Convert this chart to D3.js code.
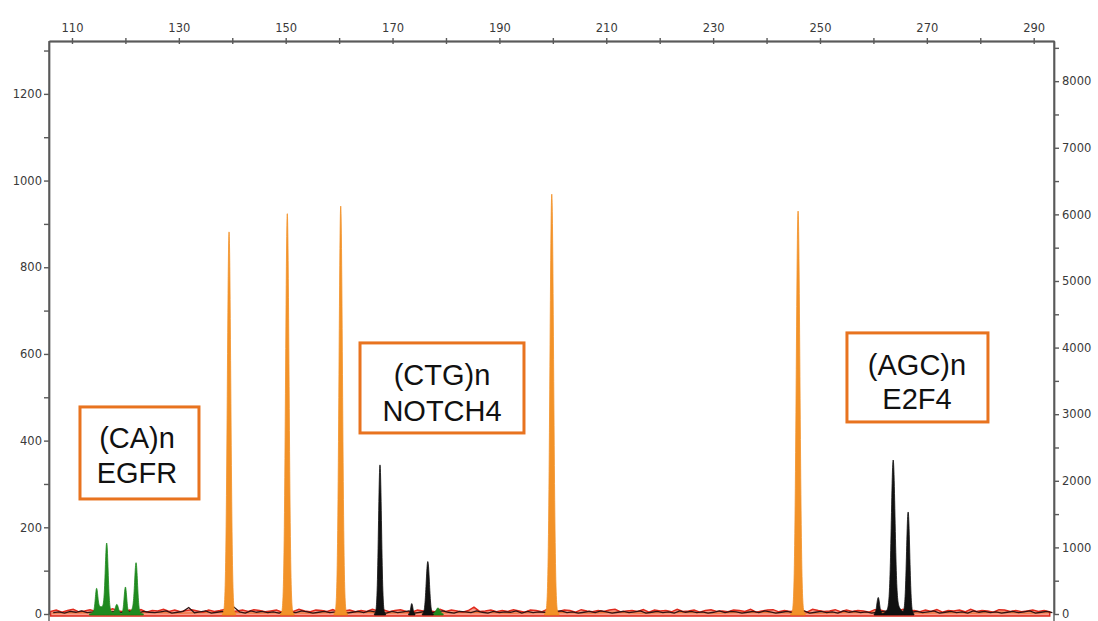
<!DOCTYPE html>
<html>
<head>
<meta charset="utf-8">
<script src="https://cdn.jsdelivr.net/npm/d3@7"></script>
<style>
  html, body { margin: 0; padding: 0; background: #fff; }
  svg { display: block; }
  .axis text { font-family: "DejaVu Sans", sans-serif; font-size: 11.5px; fill: #3a3a3a; }
  .axis line, .axis path { stroke: #5a5a5a; stroke-width: 1.4; }
  .box text { font-family: "Liberation Sans", Arial, sans-serif; font-size: 29px; fill: #111; }
</style>
</head>
<body>
<svg id="chart" width="1098" height="621"></svg>
<script>
// size axis (bp) and the two intensity axes
const sizeTicks = [110, 130, 150, 170, 190, 210, 230, 250, 270, 290];
const sizeMinor = [120, 140, 160, 180, 200, 220, 240, 260, 280];
const leftTicks = [0, 200, 400, 600, 800, 1000, 1200];
const leftMinor = [100, 300, 500, 700, 900, 1100, 1300];
const rightTicks = [0, 1000, 2000, 3000, 4000, 5000, 6000, 7000, 8000];
const rightMinor = [500, 1500, 2500, 3500, 4500, 5500, 6500, 7500, 8500];

// peaks: [size bp, height, width bp]
const orangePeaks = [[139.4, 882, 0.32], [150.3, 924, 0.32], [160.3, 941, 0.32], [199.8, 969, 0.34], [245.9, 930, 0.34]];
const blackPeaks = [[167.65, 344, 0.28], [173.6, 24, 0.2], [176.6, 121, 0.3], [260.9, 38, 0.25],
                    [263.7, 330, 0.34], [263.9, 26, 0.9], [266.5, 235, 0.3]];
const greenPeaks = [[114.6, 46, 0.22], [114.9, 14, 0.6], [116.5, 148, 0.26], [116.3, 16, 0.7],
                    [118.4, 22, 0.3], [120.0, 62, 0.24], [122.0, 106, 0.26], [121.7, 14, 0.6], [178.5, 14, 0.35]];

// baseline noise, one value per bp starting at 106
const redNoise = [6,9,4,8,11,5,7,10,6,3,8,12,7,5,9,6,10,4,8,7,
  11,6,9,5,8,10,7,4,9,6,8,11,5,7,9,6,10,8,5,7,
  9,4,8,6,11,7,5,9,8,6,10,4,7,9,5,8,6,11,7,9,
  5,8,10,6,4,9,7,8,5,11,6,9,7,4,8,16,6,7,9,5,
  8,6,10,7,4,9,8,5,11,7,6,9,8,4,10,7,5,8,6,9,
  11,5,7,8,6,10,4,9,7,8,5,11,6,7,9,4,8,10,6,7,
  5,9,8,6,11,4,7,9,10,5,8,6,7,9,4,11,8,6,7,10,
  5,9,6,8,7,4,10,9,5,8,6,11,7,8,5,9,6,10,4,8,
  7,9,5,11,6,8,7,4,10,9,6,8,5,7,9,6,8,5];
const blackNoise = [3,5,2,6,4,7,3,5,8,2,4,6,3,7,5,2,6,4,3,5,
  7,2,4,6,15,3,5,7,2,4,6,3,16,5,2,7,4,6,3,5,
  2,6,4,3,7,5,2,4,6,3,5,8,2,4,6,3,7,5,4,2,
  6,3,5,7,2,4,6,3,5,7,4,2,6,5,3,7,4,2,6,3,
  5,4,7,2,6,3,5,4,2,6,7,3,5,2,4,6,3,7,5,2,
  4,6,3,5,7,2,4,6,3,5,2,7,4,6,3,5,2,4,7,3,
  6,5,2,4,6,3,7,5,2,4,6,3,5,7,2,4,6,3,5,2,
  7,4,6,3,5,2,4,6,7,3,5,2,4,6,3,5,7,2,4,6,
  3,5,2,7,4,6,3,5,2,4,6,3,5,7,2,4,6,3];
const orangeNoise = [2,3,2,4,3,2,3,4,2,3,2,3,4,2,3,2,4,3,2,3,
  3,2,4,2,3,3,2,4,3,2,2,3,4,3,2,3,2,4,2,3];

// annotation boxes: label lines, size range, intensity range (left axis)
const boxes = [
  {lines: ["(CA)n", "EGFR"], x0: 111.5, x1: 133.77, y0: 477.7, y1: 265.4, cx: 137, base: [448, 483]},
  {lines: ["(CTG)n", "NOTCH4"], x0: 163.91, x1: 194.6, y0: 625.4, y1: 417.7, cx: 442, base: [385, 421]},
  {lines: ["(AGC)n", "E2F4"], x0: 255.05, x1: 281.44, y0: 648.5, y1: 443.1, cx: 917, base: [375, 409]}
];

const svg = d3.select("#chart");
const x = d3.scaleLinear().domain([105.7, 293.8]).range([49, 1054]);
const yL = d3.scaleLinear().domain([0, 1322]).range([614, 41]);
const yR = d3.scaleLinear().domain([0, 8603]).range([614, 41]);

const plot = svg.append("g");

const noiseX = (data, offset) => (d, i) => x(106 + offset + i * ((293 - 106) / (data.length - 1)));
const noiseLine = (data, offset) => d3.line().x(noiseX(data, offset)).y(d => yL(d))(data);
const noiseArea = (data, offset) => d3.area().x(noiseX(data, offset)).y0(yL(0) + 2).y1(d => yL(d))(data);

plot.append("path").attr("d", noiseLine(orangeNoise, 0.3))
  .attr("fill", "none").attr("stroke", "#f0a040").attr("stroke-width", 1.3);
plot.append("path").attr("d", noiseArea(redNoise, 0))
  .attr("fill", "#ef4a2a").attr("fill-opacity", 0.55).attr("stroke", "#e0281c").attr("stroke-width", 1.5);
plot.append("path").attr("d", noiseLine(blackNoise, 0.5))
  .attr("fill", "none").attr("stroke", "#301414").attr("stroke-width", 1.3);

// peak traces sampled on a fine grid of the size axis
const grid = d3.range(106, 293.8, 0.03);
const trace = peaks => grid.map(s => {
  let v = 0;
  peaks.forEach(p => { v += p[1] * Math.exp(-((s - p[0]) ** 2) / (2 * p[2] * p[2])); });
  return [s, v];
});
const area = d3.area()
  .defined(d => d[1] > 0.3)
  .x(d => x(d[0])).y0(yL(0) + 1).y1(d => yL(d[1]));

[[greenPeaks, "#1f8a1f"], [blackPeaks, "#111111"], [orangePeaks, "#f29228"]].forEach(([peaks, col]) => {
  plot.append("path").attr("d", area(trace(peaks)))
    .attr("fill", col).attr("stroke", col).attr("stroke-width", 0.8).attr("stroke-linejoin", "round");
});

// axes
const fmt = d3.format("d");
const axTop = svg.append("g").attr("class", "axis").attr("transform", "translate(0,41)");
axTop.call(d3.axisTop(x).tickValues(sizeTicks).tickSize(3).tickSizeOuter(0).tickPadding(5).tickFormat(fmt));
axTop.append("g").call(d3.axisBottom(x).tickValues(sizeTicks.concat(sizeMinor)).tickSize(3).tickSizeOuter(0).tickFormat(""));
axTop.append("g").call(d3.axisTop(x).tickValues(sizeMinor).tickSize(3).tickSizeOuter(0).tickFormat(""));
axTop.selectAll("text").attr("dy", "-0.1em");

const axLeft = svg.append("g").attr("class", "axis").attr("transform", "translate(49,0)");
axLeft.call(d3.axisLeft(yL).tickValues(leftTicks).tickSize(5).tickSizeOuter(0).tickPadding(2).tickFormat(fmt));
axLeft.append("g").call(d3.axisLeft(yL).tickValues(leftMinor).tickSize(5).tickSizeOuter(0).tickFormat(""));
axLeft.append("line").attr("x1", 0).attr("x2", 0).attr("y1", 41).attr("y2", 625);

const axRight = svg.append("g").attr("class", "axis").attr("transform", "translate(1054,0)");
axRight.call(d3.axisRight(yR).tickValues(rightTicks).tickSize(5).tickSizeOuter(0).tickPadding(3).tickFormat(fmt));
axRight.append("g").call(d3.axisRight(yR).tickValues(rightMinor).tickSize(5).tickSizeOuter(0).tickFormat(""));
axRight.append("line").attr("x1", 0).attr("x2", 0).attr("y1", 41).attr("y2", 625);

// annotation boxes
const bx = svg.selectAll(".box").data(boxes).join("g").attr("class", "box");
bx.append("rect")
  .attr("x", d => x(d.x0)).attr("y", d => yL(d.y0))
  .attr("width", d => x(d.x1) - x(d.x0)).attr("height", d => yL(d.y1) - yL(d.y0))
  .attr("fill", "#fff").attr("stroke", "#e8731f").attr("stroke-width", 3);
bx.each(function(d) {
  const g = d3.select(this);
  d.lines.forEach((t, i) => {
    g.append("text").attr("x", d.cx).attr("y", d.base[i]).attr("text-anchor", "middle").text(t);
  });
});
</script>
</body>
</html>
